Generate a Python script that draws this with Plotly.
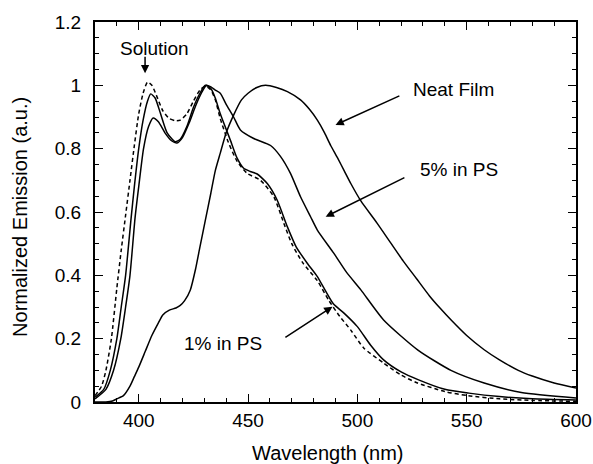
import plotly.graph_objects as go

# ---- data ----
sol_x = [380, 383, 385, 387.5, 390, 392, 394, 396, 398, 400, 402, 404, 406, 408, 411, 414, 417, 419, 422, 425, 428,
         430.5, 433, 435, 437.3, 441, 445, 449.6, 455.7, 461.8, 466.4, 470, 475, 481.7, 487, 492, 497, 503, 512, 520,
         527.5, 540, 550.6, 565, 580, 600]
sol_y = [0.02, 0.05, 0.10, 0.20, 0.36, 0.48, 0.59, 0.70, 0.81, 0.91, 0.975, 1.01, 1.0, 0.97, 0.92, 0.895, 0.888, 0.89,
         0.91, 0.95, 0.985, 0.998, 0.985, 0.955, 0.895, 0.82, 0.76, 0.722, 0.70, 0.648, 0.564, 0.50, 0.44, 0.383, 0.32,
         0.27, 0.227, 0.17, 0.123, 0.085, 0.06, 0.033, 0.02, 0.01, 0.005, 0.002]

p1_x = [380, 384, 387, 390, 392, 394, 396.5, 398, 400, 402, 404, 405.5, 407.5, 410, 413, 416.7, 419, 422, 425, 428,
        430.5, 433, 435, 437.3, 441.9, 445, 448, 451, 454.2, 458.8, 463.3, 468, 472, 477, 481.7, 489, 494, 500, 506,
        512, 520, 528, 540, 551, 565, 580, 600]
p1_y = [0.015, 0.04, 0.10, 0.20, 0.30, 0.40, 0.58, 0.68, 0.80, 0.89, 0.95, 0.973, 0.96, 0.91, 0.85, 0.822, 0.83, 0.87,
        0.93, 0.975, 1.0, 0.99, 0.96, 0.91, 0.827, 0.77, 0.738, 0.728, 0.72, 0.69, 0.638, 0.553, 0.49, 0.439, 0.396,
        0.31, 0.28, 0.238, 0.18, 0.133, 0.095, 0.07, 0.04, 0.028, 0.017, 0.01, 0.006]

p5_x = [380, 385, 388.5, 391.8, 394, 396, 398.3, 400, 402.2, 404.5, 406.6, 409, 412, 415, 417.5, 420, 423, 426, 429,
        431, 433, 435, 437.3, 440, 443.4, 446.5, 452.6, 460.3, 464.9, 469.4, 474, 478.6, 481.7, 489.2, 495, 501.6,
        512, 527.7, 542.8, 558, 575, 600]
p5_y = [0.01, 0.04, 0.10, 0.20, 0.30, 0.40, 0.58, 0.68, 0.80, 0.87, 0.897, 0.885, 0.85, 0.825, 0.818, 0.835, 0.88,
        0.935, 0.98, 1.0, 0.995, 0.985, 0.975, 0.94, 0.90, 0.859, 0.832, 0.81, 0.775, 0.722, 0.648, 0.585, 0.543,
        0.47, 0.41, 0.354, 0.259, 0.164, 0.10, 0.06, 0.03, 0.013]

nf_x = [380, 385, 388, 390, 393, 396, 398, 400, 403, 406, 409, 411, 414, 417, 419, 421, 423.6, 426, 428, 430.5, 433,
        435, 437.3, 440, 443.4, 447, 450, 454, 458, 463, 468, 474, 478, 481.7, 485, 487.8, 491, 494, 497, 501.6,
        509, 515, 521, 527, 533, 538, 543, 550, 558, 565, 573.6, 580, 590, 600]
nf_y = [0.0, 0.0, 0.003, 0.01, 0.02, 0.05, 0.08, 0.11, 0.16, 0.21, 0.25, 0.275, 0.29, 0.297, 0.305, 0.32, 0.354,
        0.42, 0.49, 0.575, 0.66, 0.73, 0.786, 0.85, 0.906, 0.954, 0.975, 0.993, 1.0, 0.993, 0.98, 0.954, 0.925, 0.89,
        0.85, 0.81, 0.77, 0.73, 0.69, 0.635, 0.565, 0.505, 0.445, 0.39, 0.335, 0.295, 0.258, 0.21, 0.165, 0.133,
        0.10, 0.082, 0.06, 0.044]

x_range = [380, 600]
y_range = [0, 1.2]
x_tick_start, x_tick_step, x_minor_step = 400, 50, 10
y_tick_start, y_tick_step, y_minor_step = 0, 0.2, 0.05

FONT = "Liberation Sans, Arial, Helvetica, sans-serif"

fig = go.Figure()
line_common = dict(color="black", width=1.5, shape="spline", smoothing=0.6)
fig.add_trace(go.Scatter(x=sol_x, y=sol_y, mode="lines", name="Solution",
                         line=dict(**line_common, dash="4px,3px")))
fig.add_trace(go.Scatter(x=p1_x, y=p1_y, mode="lines", name="1% in PS", line=line_common))
fig.add_trace(go.Scatter(x=p5_x, y=p5_y, mode="lines", name="5% in PS", line=line_common))
fig.add_trace(go.Scatter(x=nf_x, y=nf_y, mode="lines", name="Neat Film", line=line_common))

axis_common = dict(
    showgrid=False, zeroline=False, showline=True, linecolor="black", linewidth=2,
    mirror="ticks", ticks="inside", ticklen=8, tickwidth=1.3, tickcolor="black",
    tickfont=dict(family=FONT, size=19, color="black"), automargin=False, tickmode="linear",
)
fig.update_xaxes(**axis_common, range=x_range, tick0=x_tick_start, dtick=x_tick_step,
                 minor=dict(ticks="inside", dtick=x_minor_step, ticklen=4, tickwidth=1.1, tickcolor="black"))
fig.update_yaxes(**axis_common, range=y_range, tick0=y_tick_start, dtick=y_tick_step,
                 minor=dict(ticks="inside", dtick=y_minor_step, ticklen=4, tickwidth=1.1, tickcolor="black"),
                 ticklabelstandoff=8)

title_font = dict(family=FONT, size=20, color="black")
fig.add_annotation(xref="paper", yref="paper", x=0.484, y=-0.134, text="Wavelength (nm)", showarrow=False,
                   xanchor="center", yanchor="middle", font=title_font)
fig.add_annotation(xref="paper", yref="paper", x=-0.156, y=0.487, text="Normalized Emission (a.u.)",
                   showarrow=False, textangle=-90, xanchor="center", yanchor="middle", font=title_font)

ann_font = dict(family=FONT, size=19, color="black")
texts = [
    ("Solution", 407.2, 1.117, "center"),
    ("Neat Film", 524.5, 0.988, "left"),
    ("5% in PS", 527.6, 0.733, "left"),
    ("1% in PS", 457.2, 0.185, "right"),
]
for t, x, y, xa in texts:
    fig.add_annotation(x=x, y=y, text=t, showarrow=False, xanchor=xa, yanchor="middle", font=ann_font)

arrows = [
    (402.9, 1.038, 402.9, 1.095),
    (490.0, 0.875, 519.9, 0.969),
    (485.5, 0.585, 522.2, 0.711),
    (488.6, 0.301, 466.4, 0.201),
]
for x, y, ax, ay in arrows:
    fig.add_annotation(x=x, y=y, ax=ax, ay=ay, axref="x", ayref="y", text="", showarrow=True,
                       arrowhead=2, arrowsize=1.1, arrowwidth=1.5, arrowcolor="black", standoff=0)

fig.update_layout(
    width=593, height=464, margin=dict(l=95, r=17, t=22, b=62),
    plot_bgcolor="white", paper_bgcolor="white", showlegend=False,
    font=dict(family=FONT, color="black"),
)

fig.write_html("out.html")
